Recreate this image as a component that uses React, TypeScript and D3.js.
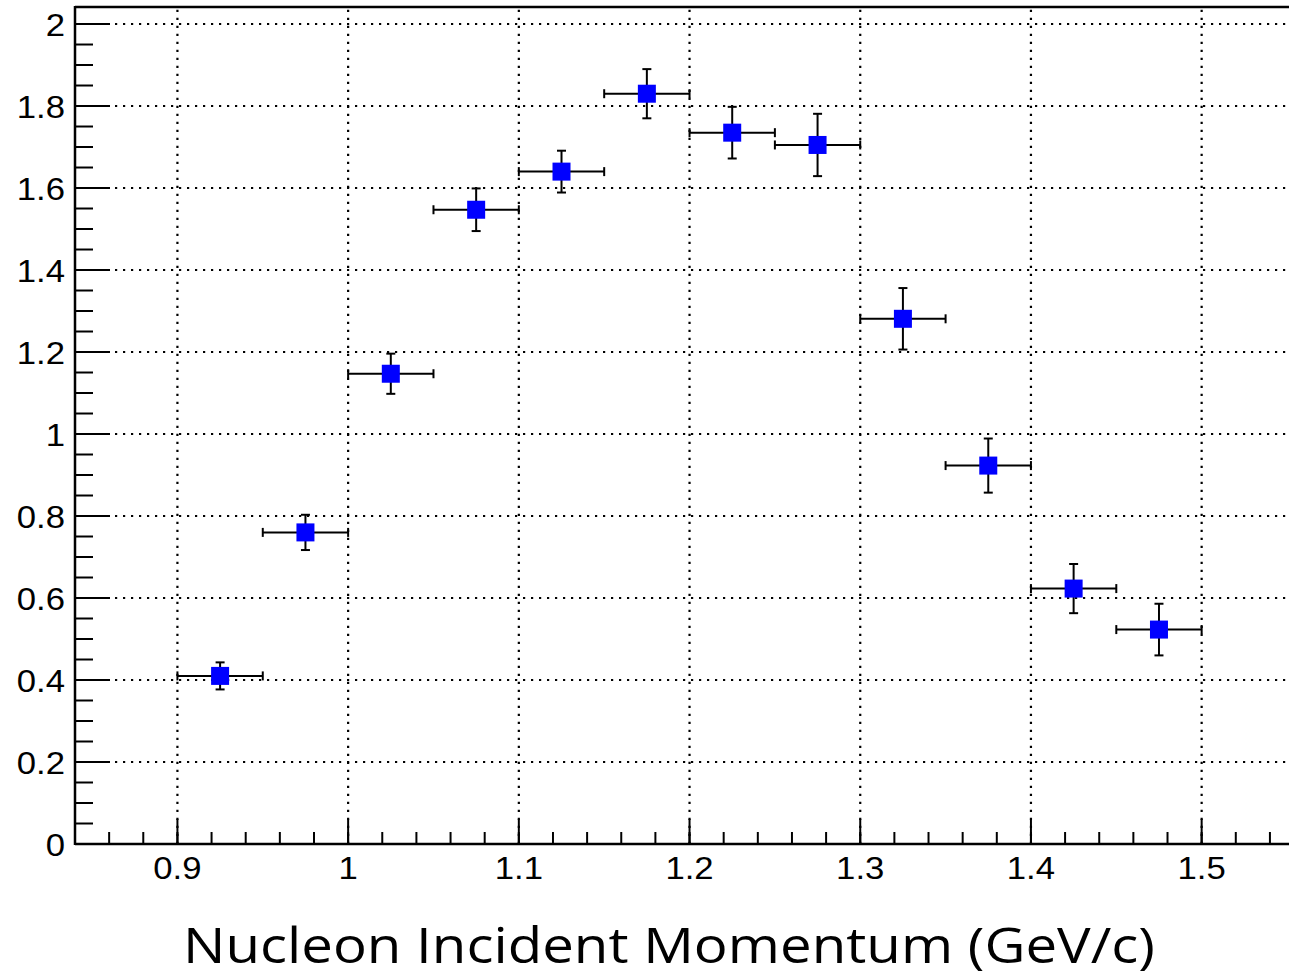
import React from "react";
import * as d3 from "d3";

const xCenters = [0.925, 0.975, 1.025, 1.075, 1.125, 1.175, 1.225, 1.275, 1.325, 1.375, 1.425, 1.475];
const yValues = [0.41, 0.76, 1.147, 1.547, 1.64, 1.83, 1.735, 1.705, 1.281, 0.923, 0.623, 0.523];
const yErrors = [0.033, 0.043, 0.049, 0.052, 0.051, 0.06, 0.063, 0.076, 0.075, 0.066, 0.06, 0.063];
const xErrors = [0.025, 0.025, 0.025, 0.025, 0.025, 0.025, 0.025, 0.025, 0.025, 0.025, 0.025, 0.025];

const xTickValues = [0.9, 1.0, 1.1, 1.2, 1.3, 1.4, 1.5];
const xTickLabels = ["0.9", "1", "1.1", "1.2", "1.3", "1.4", "1.5"];
const yTickValues = [0, 0.2, 0.4, 0.6, 0.8, 1.0, 1.2, 1.4, 1.6, 1.8, 2.0];
const yTickLabels = ["0", "0.2", "0.4", "0.6", "0.8", "1", "1.2", "1.4", "1.6", "1.8", "2"];

const xTitle = "Nucleon Incident Momentum (GeV/c)";

const W = 1289;
const H = 977;
const L = 75;
const R = 1287;
const T = 7;
const B = 844;

export default function App() {
  const x = d3.scaleLinear().domain([0.84, 1.55]).range([L, R]);
  const y = d3.scaleLinear().domain([0, 2.0415]).range([B, T]);

  const xMinor = d3.range(0.84, 1.5501, 0.02).filter((v) => x(v) > L + 1 && x(v) < R);
  const yMinor = d3.range(0, 2.04, 0.05);

  const labelFont = "'Liberation Sans', Arial, Helvetica, sans-serif";
  const grid = { stroke: "#000", strokeWidth: 2.2, strokeDasharray: "2.2 5.8" };
  const cap = 4.5;
  const ms = 18;

  return (
    <svg
      width={W}
      height={H}
      style={{ position: "absolute", left: 0, top: 0, display: "block", background: "#fff" }}
    >
      <rect x={0} y={0} width={W} height={H} fill="#fff" />
      {/* grid */}
      {xTickValues.map((v, i) => (
        <line key={"gx" + i} x1={x(v)} x2={x(v)} y1={B} y2={T} {...grid} />
      ))}
      {yTickValues.map((v, i) => (
        <line key={"gy" + i} x1={L} x2={R} y1={y(v)} y2={y(v)} {...grid} />
      ))}

      {/* error bars */}
      {xCenters.map((xc, i) => {
        const yc = y(yValues[i]);
        const x0 = x(xc - xErrors[i]);
        const x1 = x(xc + xErrors[i]);
        const y0 = y(yValues[i] - yErrors[i]);
        const y1 = y(yValues[i] + yErrors[i]);
        const px = x(xc);
        return (
          <g key={"e" + i} stroke="#000" strokeWidth={2}>
            <line x1={x0} x2={x1} y1={yc} y2={yc} />
            <line x1={x0} x2={x0} y1={yc - cap} y2={yc + cap} />
            <line x1={x1} x2={x1} y1={yc - cap} y2={yc + cap} />
            <line x1={px} x2={px} y1={y0} y2={y1} />
            <line x1={px - cap} x2={px + cap} y1={y0} y2={y0} />
            <line x1={px - cap} x2={px + cap} y1={y1} y2={y1} />
          </g>
        );
      })}

      {/* markers */}
      {xCenters.map((xc, i) => (
        <rect
          key={"m" + i}
          x={x(xc) - ms / 2}
          y={y(yValues[i]) - ms / 2}
          width={ms}
          height={ms}
          fill="#0000ff"
        />
      ))}

      {/* frame */}
      <line x1={L} x2={R + 2} y1={T} y2={T} stroke="#000" strokeWidth={2.5} />
      <line x1={L} x2={L} y1={T - 1} y2={B + 1} stroke="#000" strokeWidth={2.5} />
      <line x1={L} x2={W} y1={B} y2={B} stroke="#000" strokeWidth={2.5} />

      {/* y ticks */}
      {yMinor.map((v, i) => (
        <line key={"ym" + i} x1={L} x2={L + 18} y1={y(v)} y2={y(v)} stroke="#000" strokeWidth={2} />
      ))}
      {yTickValues.map((v, i) => (
        <line key={"yM" + i} x1={L} x2={L + 35} y1={y(v)} y2={y(v)} stroke="#000" strokeWidth={2} />
      ))}
      {yTickValues.map((v, i) => (
        <text
          key={"yl" + i}
          transform={`translate(${L - 10},${y(v) + 1}) scale(1.12,1)`}
          textAnchor="end"
          dominantBaseline="central"
          fontFamily={labelFont}
          fontSize={31}
          fill="#000"
        >
          {yTickLabels[i]}
        </text>
      ))}

      {/* x ticks */}
      {xMinor.map((v, i) => (
        <line key={"xm" + i} x1={x(v)} x2={x(v)} y1={B} y2={B - 12} stroke="#000" strokeWidth={2} />
      ))}
      {xTickValues.map((v, i) => (
        <line key={"xM" + i} x1={x(v)} x2={x(v)} y1={B} y2={B - 25} stroke="#000" strokeWidth={2} />
      ))}
      {xTickValues.map((v, i) => (
        <text
          key={"xl" + i}
          transform={`translate(${x(v)},${868}) scale(1.12,1)`}
          textAnchor="middle"
          dominantBaseline="central"
          fontFamily={labelFont}
          fontSize={31}
          fill="#000"
        >
          {xTickLabels[i]}
        </text>
      ))}

      {/* axis title */}
      <text
        x={(183 + 1155) / 2}
        y={963}
        textAnchor="middle"
        fontFamily="'Open Sans', 'Noto Sans', sans-serif"
        fontSize={49}
        textLength={972}
        lengthAdjust="spacingAndGlyphs"
        fill="#000"
      >
        {xTitle}
      </text>
    </svg>
  );
}
